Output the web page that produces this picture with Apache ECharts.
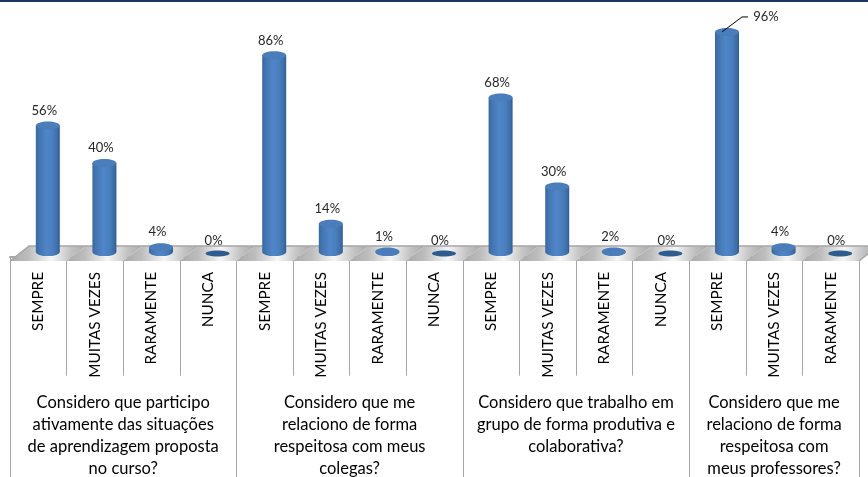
<!DOCTYPE html>
<html><head><meta charset="utf-8">
<style>html,body{margin:0;padding:0;background:#fff}#c{width:868px;height:477px}</style>
<script src="https://cdn.jsdelivr.net/npm/echarts@6/dist/echarts.min.js"></script>
</head><body><div id="c"></div>
<script>
const categories = ['SEMPRE','MUITAS VEZES','RARAMENTE','NUNCA','SEMPRE','MUITAS VEZES','RARAMENTE','NUNCA','SEMPRE','MUITAS VEZES','RARAMENTE','NUNCA','SEMPRE','MUITAS VEZES','RARAMENTE'];
const values = [56,40,4,0,86,14,1,0,68,30,2,0,96,4,0];
const groupLabels = ['Considero que participo\nativamente das situações\nde aprendizagem proposta\nno curso?','Considero que me\nrelaciono de forma\nrespeitosa com meus\ncolegas?','Considero que trabalho em\ngrupo de forma produtiva e\ncolaborativa?','Considero que me\nrelaciono de forma\nrespeitosa com\nmeus professores?'];
const groupEdges = [0,4,8,12,15];
const groupCentres = [2,6,10,13.5];

const AXIS = '#a6a6a6', FONT = 'Lato, sans-serif';
const maxValue = Math.max(...values);
const G = (stops, x2, y2) => new echarts.graphic.LinearGradient(0,0,x2,y2,stops);

function renderFloor(params, api){
  const i = api.value(0), cs = params.coordSys;
  const bw = api.size([1,0])[0];
  const x0 = cs.x + i*bw, x1 = x0 + bw;
  const yF = api.coord([0,0])[1] + 4.4, yB = yF - 15, sk = 19;
  return {type:'polygon', shape:{points:[[x0,yF],[x0+sk,yB],[x1+sk,yB],[x1,yF]]},
    style:{fill:G([{offset:0,color:'#a9a9a9'},{offset:.25,color:'#bdbdbd'},{offset:.55,color:'#f6f6f6'},{offset:.8,color:'#c4c4c4'},{offset:1,color:'#a9a9a9'}],1,0.25)}};
}
function renderFloorEdge(params, api){
  const cs = params.coordSys;
  const yF = api.coord([0,0])[1] + 4.4, yB = yF - 15, sk = 19;
  return {type:'polyline',shape:{points:[[cs.x,yF],[cs.x+sk,yB],[cs.x+cs.width+sk,yB],[cs.x+cs.width,yF]]},
    style:{stroke:AXIS,lineWidth:1.5,fill:null}};
}
function renderBars(params, api){
  const i = api.value(0), v = api.value(1);
  const c = api.coord([i,v]), z = api.coord([i,0]);
  const cx = c[0] + 9.5, rx = 12, ry = 4;
  const kids = [];
  if (v === 0){
    kids.push({type:'ellipse',shape:{cx,cy:z[1]-3,rx,ry:3},style:{fill:'#2f5c8f'}});
    kids.push({type:'text',style:{text:v+'%',x:cx-4,y:z[1]-16,align:'center',verticalAlign:'middle',font:'13px '+FONT,fill:'#262626'}});
  } else {
    const yBot = z[1]-4.5, yTop = Math.min(c[1],yBot-0.5);
    kids.push({type:'path',shape:{pathData:`M${cx-rx} ${yTop}L${cx-rx} ${yBot}A${rx} ${ry} 0 0 0 ${cx+rx} ${yBot}L${cx+rx} ${yTop}Z`},
      style:{fill:G([{offset:0,color:'#38689f'},{offset:.12,color:'#4273ae'},{offset:.45,color:'#4f86c8'},{offset:.7,color:'#4a7fbe'},{offset:.92,color:'#3b6ca5'},{offset:1,color:'#31598a'}],1,0)}});
    kids.push({type:'ellipse',shape:{cx,cy:yTop,rx,ry},style:{fill:'#4a7db9'}});
    if (v === maxValue){
      kids.push({type:'polyline',shape:{points:[[cx-5,yTop],[cx+15,yTop-15],[cx+21,yTop-15]]},style:{stroke:'#000',lineWidth:1,fill:null}});
      kids.push({type:'text',style:{text:v+'%',x:cx+39,y:yTop-15,align:'center',verticalAlign:'middle',font:'13px '+FONT,fill:'#262626'}});
    } else {
      kids.push({type:'text',style:{text:v+'%',x:cx-3.5,y:yTop-15,align:'center',verticalAlign:'middle',font:'13px '+FONT,fill:'#262626'}});
    }
  }
  return {type:'group',children:kids};
}

const chart = echarts.init(document.getElementById('c'),null,{renderer:'canvas'});
chart.setOption({
  animation:false,
  backgroundColor:'#fff',
  graphic:[{type:'rect',left:0,top:0,shape:{width:868,height:2},style:{fill:'#17375e'}}],
  grid:{left:10,top:22.6,width:849,height:234,outerBoundsMode:'none'},
  yAxis:{type:'value',min:0,max:100,show:false},
  xAxis:[
    {type:'category',data:categories,position:'bottom',offset:4.4,boundaryGap:true,
     axisLine:{lineStyle:{color:AXIS,width:2}},
     axisTick:{show:true,length:119,lineStyle:{color:AXIS,width:1}},
     axisLabel:{interval:0,rotate:90,margin:11,padding:[3,0,0,0],fontFamily:FONT,fontSize:15.3,color:'#000'},
     splitLine:{show:false}},
    {type:'value',min:0,max:15,position:'bottom',offset:4.4,
     axisLine:{show:false},
     axisTick:{show:true,length:216,customValues:groupEdges,lineStyle:{color:AXIS,width:1}},
     axisLabel:{show:true,customValues:groupCentres,margin:131,verticalAlign:'top',lineHeight:22,fontFamily:FONT,fontSize:16.5,color:'#000',
       formatter:(v)=>groupLabels[groupCentres.indexOf(v)]||''},
     splitLine:{show:false}}
  ],
  series:[
    {type:'custom',z:1,xAxisIndex:0,renderItem:renderFloor,clip:false,data:values.map((v,i)=>[i,v]),encode:{x:0,y:1},silent:true},
    {type:'custom',z:1,xAxisIndex:0,renderItem:renderFloorEdge,clip:false,data:[[0,0]],encode:{x:0,y:1},silent:true},
    {type:'custom',z:2,xAxisIndex:0,renderItem:renderBars,clip:false,data:values.map((v,i)=>[i,v]),encode:{x:0,y:1}}
  ]
});
</script></body></html>
